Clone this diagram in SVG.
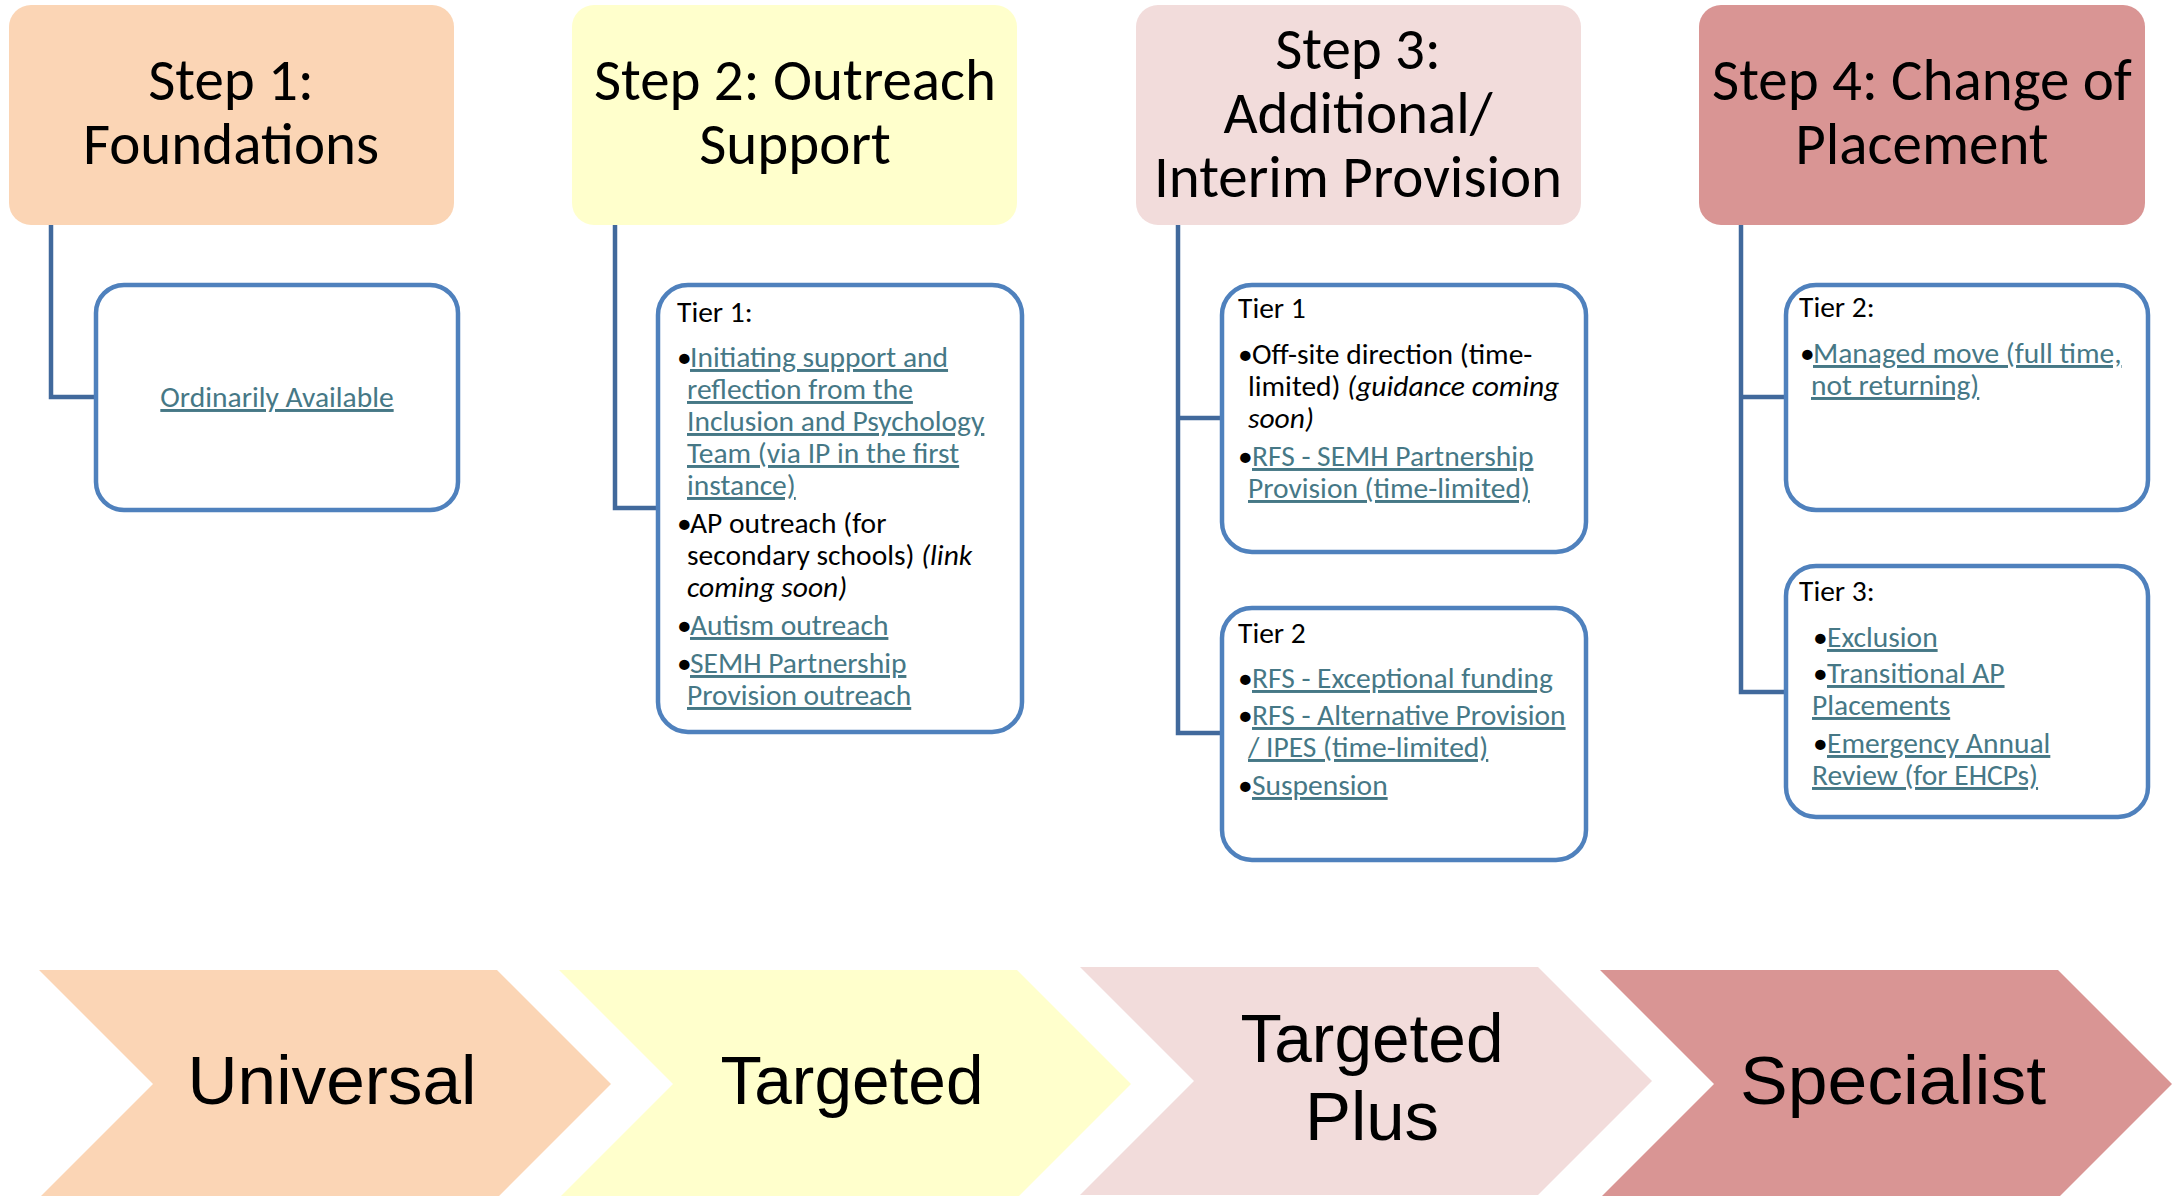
<svg xmlns="http://www.w3.org/2000/svg" width="2178" height="1196" viewBox="0 0 2178 1196">
<style>
.hdr{font-family:Carlito,Calibri,Lato,"Liberation Sans",sans-serif;font-size:59px;fill:#000;text-anchor:middle}
.t{font-family:Carlito,Calibri,Lato,"Liberation Sans",sans-serif;font-size:29.5px;fill:#000}
.lk{fill:#467886;text-decoration:underline}
.it{font-style:italic}
.box{fill:#fff;stroke:#4f81bd;stroke-width:4.5}
.con{fill:none;stroke:#41699c;stroke-width:4.5}
.chev{font-family:"Liberation Sans",Arial,sans-serif;font-size:69px;fill:#000;text-anchor:middle}
</style>
<rect width="2178" height="1196" fill="#fff"/>
<g id="connectors">
<path class="con" d="M51,225 V397 H96"/>
<path class="con" d="M615,225 V508 H658"/>
<path class="con" d="M1178,225 V733 H1222 M1178,418 H1222"/>
<path class="con" d="M1741,225 V692 H1786 M1741,397 H1786"/>
</g>
<g id="step1">
<rect x="9" y="5" width="445" height="220" rx="22" fill="#fbd5b5"/>
<text class="hdr" x="231" y="100">Step 1:</text>
<text class="hdr" x="231" y="164">Foundations</text>
</g>
<g id="step2">
<rect x="572" y="5" width="445" height="220" rx="22" fill="#ffffcc"/>
<text class="hdr" x="795" y="100">Step 2: Outreach</text>
<text class="hdr" x="795" y="164">Support</text>
</g>
<g id="step3">
<rect x="1136" y="5" width="445" height="220" rx="22" fill="#f2dcdb"/>
<text class="hdr" x="1358" y="69">Step 3:</text>
<text class="hdr" x="1358" y="133">Additional/</text>
<text class="hdr" x="1358" y="197">Interim Provision</text>
</g>
<g id="step4">
<rect x="1699" y="5" width="446" height="220" rx="22" fill="#d99594"/>
<text class="hdr" x="1922" y="100">Step 4: Change of</text>
<text class="hdr" x="1922" y="164">Placement</text>
</g>
<g id="step1-box">
<rect class="box" x="96" y="285" width="362" height="225" rx="28"/>
<text class="t lk" x="277" y="407" text-anchor="middle">Ordinarily Available</text>
</g>
<g id="step2-tier1">
<rect class="box" x="658" y="285" width="364" height="447" rx="30"/>
<text class="t" x="677" y="322">Tier 1:</text>
<text class="t" x="677" y="367">•<tspan class="lk" x="690">Initiating support and</tspan></text>
<text class="t lk" x="687" y="399">reflection from the</text>
<text class="t lk" x="687" y="431">Inclusion and Psychology</text>
<text class="t lk" x="687" y="463">Team (via IP in the first</text>
<text class="t lk" x="687" y="495">instance)</text>
<text class="t" x="677" y="533">•<tspan x="690">AP outreach (for</tspan></text>
<text class="t" x="687" y="565">secondary schools) <tspan class="it">(link</tspan></text>
<text class="t it" x="687" y="597">coming soon)</text>
<text class="t" x="677" y="635">•<tspan class="lk" x="690">Autism outreach</tspan></text>
<text class="t" x="677" y="673">•<tspan class="lk" x="690">SEMH Partnership</tspan></text>
<text class="t lk" x="687" y="705">Provision outreach</text>
</g>
<g id="step3-tier1">
<rect class="box" x="1222" y="285" width="364" height="267" rx="30"/>
<text class="t" x="1238" y="318">Tier 1</text>
<text class="t" x="1238" y="364">•<tspan x="1252">Off-site direction (time-</tspan></text>
<text class="t" x="1248" y="396">limited) <tspan class="it">(guidance coming</tspan></text>
<text class="t it" x="1248" y="428">soon)</text>
<text class="t" x="1238" y="466">•<tspan class="lk" x="1252">RFS - SEMH Partnership</tspan></text>
<text class="t lk" x="1248" y="498">Provision (time-limited)</text>
</g>
<g id="step3-tier2">
<rect class="box" x="1222" y="608" width="364" height="252" rx="30"/>
<text class="t" x="1238" y="643">Tier 2</text>
<text class="t" x="1238" y="688">•<tspan class="lk" x="1252">RFS - Exceptional funding</tspan></text>
<text class="t" x="1238" y="725">•<tspan class="lk" x="1252">RFS - Alternative Provision</tspan></text>
<text class="t lk" x="1248" y="757">/ IPES (time-limited)</text>
<text class="t" x="1238" y="795">•<tspan class="lk" x="1252">Suspension</tspan></text>
</g>
<g id="step4-tier2">
<rect class="box" x="1786" y="285" width="362" height="225" rx="30"/>
<text class="t" x="1799" y="317">Tier 2:</text>
<text class="t" x="1800" y="363">•<tspan class="lk" x="1813">Managed move (full time,</tspan></text>
<text class="t lk" x="1811" y="395">not returning)</text>
</g>
<g id="step4-tier3">
<rect class="box" x="1786" y="566" width="362" height="251" rx="30"/>
<text class="t" x="1799" y="601">Tier 3:</text>
<text class="t" x="1813" y="647">•<tspan class="lk" x="1827">Exclusion</tspan></text>
<text class="t" x="1813" y="683">•<tspan class="lk" x="1827">Transitional AP</tspan></text>
<text class="t lk" x="1812" y="715">Placements</text>
<text class="t" x="1813" y="753">•<tspan class="lk" x="1827">Emergency Annual</tspan></text>
<text class="t lk" x="1812" y="785">Review (for EHCPs)</text>
</g>
<g id="chevron-universal">
<polygon points="39,970 497,970 611,1084 497,1198 39,1198 153,1084" fill="#fbd5b5"/>
<text class="chev" x="332" y="1104" textLength="289" lengthAdjust="spacingAndGlyphs">Universal</text>
</g>
<g id="chevron-targeted">
<polygon points="559,970 1017,970 1131,1084 1017,1198 559,1198 673,1084" fill="#ffffcc"/>
<text class="chev" x="852" y="1104" textLength="263" lengthAdjust="spacingAndGlyphs">Targeted</text>
</g>
<g id="chevron-targeted-plus">
<polygon points="1080,967 1538,967 1652,1081 1538,1195 1080,1195 1194,1081" fill="#f2dcdb"/>
<text class="chev" x="1372" y="1062" textLength="263" lengthAdjust="spacingAndGlyphs">Targeted</text>
<text class="chev" x="1372" y="1140">Plus</text>
</g>
<g id="chevron-specialist">
<polygon points="1600,970 2058,970 2172,1084 2058,1198 1600,1198 1714,1084" fill="#d99594"/>
<text class="chev" x="1893" y="1104" textLength="306" lengthAdjust="spacingAndGlyphs">Specialist</text>
</g>
</svg>
